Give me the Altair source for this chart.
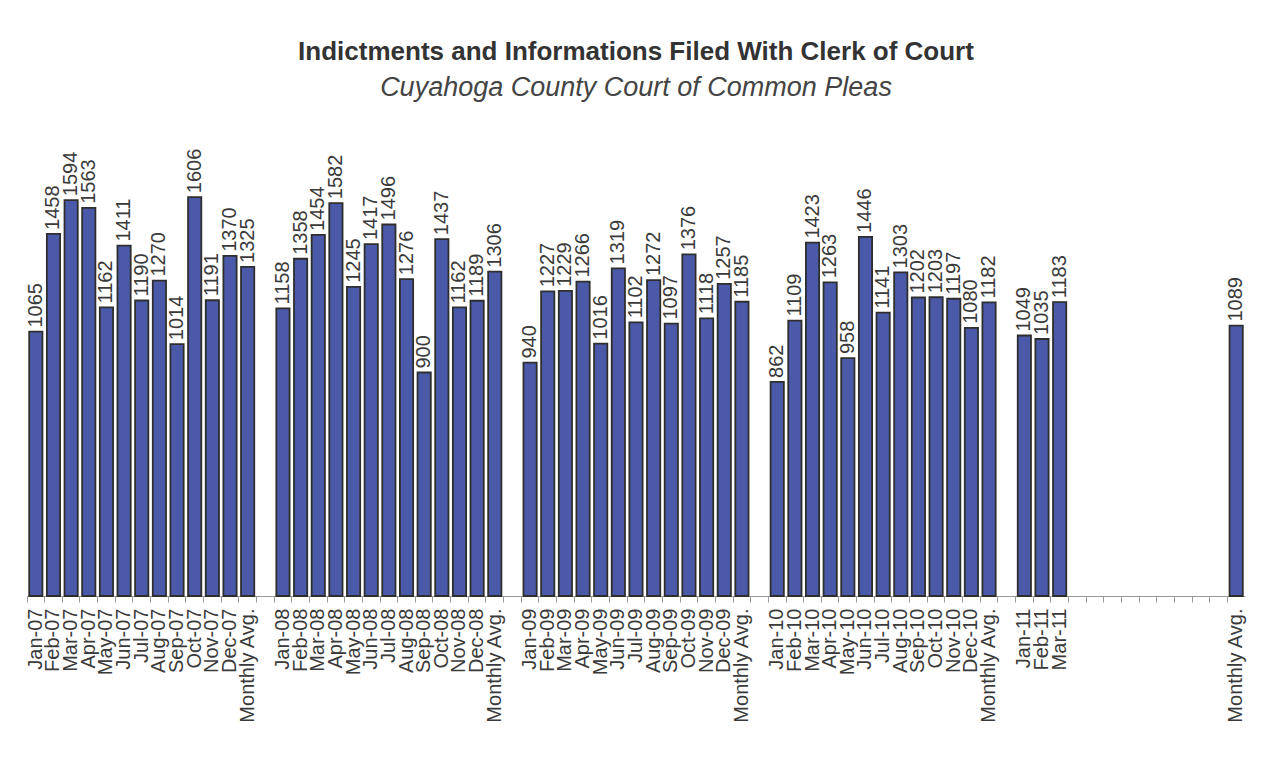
import json
import altair as alt
import pandas as pd

months = ["Jan", "Feb", "Mar", "Apr", "May", "Jun", "Jul", "Aug", "Sep", "Oct", "Nov", "Dec"]
years = ["07", "08", "09", "10"]
vals_2007 = [1065, 1458, 1594, 1563, 1162, 1411, 1190, 1270, 1014, 1606, 1191, 1370]
vals_2008 = [1158, 1358, 1454, 1582, 1245, 1417, 1496, 1276, 900, 1437, 1162, 1189]
vals_2009 = [940, 1227, 1229, 1266, 1016, 1319, 1102, 1272, 1097, 1376, 1118, 1257]
vals_2010 = [862, 1109, 1423, 1263, 958, 1446, 1141, 1303, 1202, 1203, 1197, 1080]
avgs = [1325, 1306, 1185, 1182]
months_2011 = ["Jan-11", "Feb-11", "Mar-11"]
vals_2011 = [1049, 1035, 1183]
avg_2011 = 1089
blank_after_2011 = 9

labels = []
values = []
for yr, vals, av in zip(years, [vals_2007, vals_2008, vals_2009, vals_2010], avgs):
    for m, v in zip(months, vals):
        labels.append(f"{m}-{yr}")
        values.append(v)
    labels.append("Monthly Avg.")
    values.append(av)
    labels.append("")
    values.append(None)
for m, v in zip(months_2011, vals_2011):
    labels.append(m)
    values.append(v)
for _ in range(blank_after_2011):
    labels.append("")
    values.append(None)
labels.append("Monthly Avg.")
values.append(avg_2011)

n = len(labels)
rows = [{"slot": i, "label": l, "value": v} for i, (l, v) in enumerate(zip(labels, values)) if v is not None]
df = pd.DataFrame(rows)

label_expr = json.dumps(labels) + "[datum.value]"

x = alt.X(
    "slot:O",
    scale=alt.Scale(domain=list(range(n)), paddingInner=0, paddingOuter=0),
    axis=alt.Axis(
        title=None,
        labelExpr=label_expr,
        labelAngle=-90,
        labelFontSize=20,
        labelFont="Liberation Sans",
        labelColor="#3a3a3a",
        labelPadding=6,
        labelOverlap=False,
        labelBound=False,
        labelFlush=False,
        bandPosition=0,
        tickSize=6,
        tickColor="#9a9a9a",
        domainColor="#9a9a9a",
        domainWidth=1,
        tickWidth=1,
    ),
)
y = alt.Y("value:Q", scale=alt.Scale(domain=[0, 1800]), axis=None)

bars = alt.Chart(df).mark_bar(
    width={"band": 0.75},
    fill="#4A5AA8",
    stroke="#2e2e2e",
    strokeWidth=1.8,
).encode(x=x, y=y)

texts = alt.Chart(df).mark_text(
    angle=270,
    align="left",
    baseline="middle",
    dx=4,
    fontSize=20,
    font="Liberation Sans",
    color="#3a3a3a",
).encode(x=x, y=y, text=alt.Text("value:Q", format="d"))

chart = alt.layer(bars, texts).properties(
    width=1218,
    height=447,
    background="white",
    autosize=alt.AutoSizeParams(type="none"),
    padding={"left": 19, "top": 141, "right": 11, "bottom": 166},
    title=alt.TitleParams(
        text="Indictments and Informations Filed With Clerk of Court",
        subtitle="Cuyahoga County Court of Common Pleas",
        font="Liberation Sans",
        fontSize=26,
        fontWeight="bold",
        color="#333333",
        subtitleFont="Liberation Sans",
        subtitleFontSize=27,
        subtitleFontStyle="italic",
        subtitleColor="#444444",
        subtitlePadding=10,
        anchor="middle",
        offset=48,
    ),
).configure_view(strokeWidth=0, stroke="transparent")

chart.save("out.html", embed_options={"renderer": "svg", "actions": False})
